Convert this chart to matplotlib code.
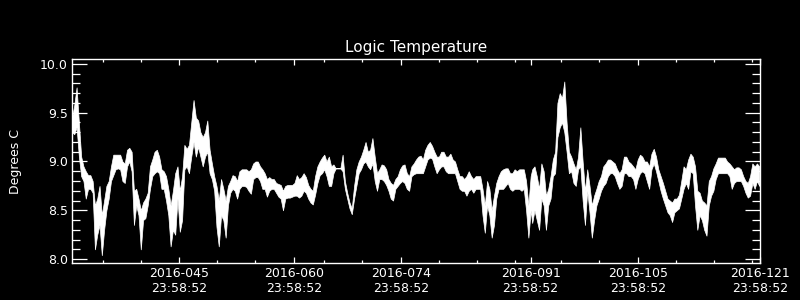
import matplotlib
matplotlib.use("Agg")
import matplotlib.pyplot as plt

# day of year 2016 (sampled from the plot), lower / upper envelope of the trace
day = [
    31.0, 31.3, 31.6, 31.9, 32.2, 32.5, 32.8, 33.1, 33.4, 33.7, 34.0, 34.3, 34.6, 34.9, 35.2, 35.5, 35.8,
    36.1, 36.4, 36.7, 37.0, 37.3, 37.6, 37.9, 38.2, 38.5, 38.8, 39.1, 39.4, 39.7, 40.0, 40.3, 40.6, 40.9,
    41.2, 41.5, 41.8, 42.1, 42.4, 42.7, 43.0, 43.3, 43.6, 43.9, 44.2, 44.5, 44.8, 45.1, 45.4, 45.7, 46.0,
    46.3, 46.6, 46.9, 47.2, 47.5, 47.8, 48.1, 48.4, 48.7, 49.0, 49.3, 49.6, 49.9, 50.2, 50.5, 50.8, 51.1,
    51.4, 51.7, 52.0, 52.3, 52.6, 52.9, 53.2, 53.5, 53.8, 54.1, 54.4, 54.7, 55.0, 55.3, 55.6, 55.9, 56.2,
    56.5, 56.8, 57.1, 57.4, 57.7, 58.0, 58.3, 58.6, 58.9, 59.2, 59.5, 59.8, 60.1, 60.4, 60.7,
    61.0, 61.3, 61.6, 61.9, 62.2, 62.5, 62.8, 63.1, 63.4, 63.7, 64.0, 64.3, 64.6, 64.9, 65.2, 65.5, 65.8,
    66.1, 66.4, 66.7, 67.0, 67.3, 67.6, 67.9, 68.2, 68.5, 68.8, 69.1, 69.4, 69.7, 70.0, 70.3, 70.6, 70.9,
    71.2, 71.5, 71.8, 72.1, 72.4, 72.7, 73.0, 73.3, 73.6, 73.9, 74.2, 74.5, 74.8, 75.1, 75.4, 75.7,
    76.0, 76.3, 76.6, 76.9, 77.2, 77.5, 77.8, 78.1, 78.4, 78.7, 79.0, 79.3, 79.6, 79.9, 80.2, 80.5, 80.8,
    81.1, 81.4, 81.7, 82.0, 82.3, 82.6, 82.9, 83.2, 83.5, 83.8, 84.1, 84.4, 84.7, 85.0, 85.3, 85.6, 85.9,
    86.2, 86.5, 86.8, 87.1, 87.4, 87.7, 88.0, 88.3, 88.6, 88.9, 89.2, 89.5, 89.8, 90.1, 90.4, 90.7, 91.0,
    91.2, 91.5, 91.8, 92.1, 92.4, 92.7, 93.0, 93.3, 93.6, 93.9, 94.2, 94.5, 94.8, 95.1, 95.4, 95.7, 96.0,
    96.3, 96.6, 96.9, 97.2, 97.5, 97.8, 98.1, 98.4, 98.7, 99.0, 99.3, 99.6, 99.9, 100.2, 100.5, 100.8,
    101.1, 101.4, 101.7, 102.0, 102.3, 102.6, 102.9, 103.2, 103.5, 103.8, 104.1, 104.4, 104.7, 105.0,
    105.3, 105.6, 105.9,
    106.2, 106.5, 106.8, 107.1, 107.4, 107.7, 108.0, 108.3, 108.6, 108.9, 109.2, 109.5, 109.8, 110.1,
    110.4, 110.7, 111.0, 111.3, 111.6, 111.9, 112.2, 112.5, 112.8, 113.1, 113.4, 113.7, 114.0, 114.3,
    114.6, 114.9, 115.2, 115.5, 115.8, 116.1, 116.4, 116.7, 117.0, 117.3, 117.6, 117.9, 118.2, 118.5,
    118.8, 119.1, 119.4, 119.7, 120.0, 120.3, 120.6, 120.9,
]

t_lo = [
    9.30, 9.28, 9.35, 9.05, 8.85, 8.80, 8.62, 8.72, 8.72, 8.68, 8.10, 8.25, 8.35, 8.04, 8.30, 8.50, 8.62,
    8.80, 8.86, 8.92, 8.93, 8.92, 8.80, 8.78, 8.95, 9.00, 8.90, 8.35, 8.55, 8.45, 8.10, 8.40, 8.42, 8.55,
    8.72, 8.85, 8.88, 8.90, 8.88, 8.72, 8.72, 8.60, 8.45, 8.13, 8.30, 8.25, 8.62, 8.28, 8.40, 8.92, 8.95,
    8.88, 9.05, 9.20, 9.05, 9.15, 9.05, 8.95, 9.05, 9.10, 8.88, 8.82, 8.70, 8.33, 8.13, 8.45, 8.40, 8.22,
    8.55, 8.68, 8.72, 8.70, 8.62, 8.72, 8.75, 8.75, 8.74, 8.70, 8.67, 8.82, 8.84, 8.84, 8.80, 8.72, 8.72,
    8.64, 8.70, 8.72, 8.72, 8.68, 8.64, 8.62, 8.50, 8.62, 8.63, 8.63, 8.64, 8.65, 8.65, 8.63,
    8.65, 8.70, 8.68, 8.62, 8.58, 8.56, 8.66, 8.78, 8.86, 8.88, 8.92, 8.85, 8.75, 8.75, 8.88, 8.93, 8.93,
    8.93, 8.90, 8.72, 8.62, 8.52, 8.46, 8.62, 8.75, 8.88, 8.92, 8.98, 9.00, 8.95, 8.92, 8.98, 8.80, 8.70,
    8.82, 8.82, 8.80, 8.76, 8.70, 8.62, 8.60, 8.72, 8.75, 8.78, 8.80, 8.78, 8.72, 8.70, 8.85, 8.87,
    8.88, 8.88, 8.88, 8.88, 8.95, 9.02, 9.04, 9.03, 8.95, 8.88, 8.92, 8.95, 8.95, 8.90, 8.88, 8.88, 8.88,
    8.88, 8.80, 8.72, 8.70, 8.70, 8.65, 8.70, 8.72, 8.68, 8.72, 8.72, 8.72, 8.45, 8.27, 8.55, 8.45, 8.22,
    8.35, 8.62, 8.72, 8.72, 8.72, 8.75, 8.78, 8.72, 8.70, 8.72, 8.72, 8.72, 8.70, 8.72, 8.50, 8.22, 8.50,
    8.37, 8.50, 8.40, 8.30, 8.62, 8.55, 8.30, 8.55, 8.62, 8.85, 8.88, 9.25, 9.35, 9.40, 9.30, 9.10, 8.88,
    8.90, 8.78, 8.75, 8.92, 8.95, 8.60, 8.35, 8.70, 8.48, 8.22, 8.40, 8.55, 8.62, 8.70, 8.75, 8.78,
    8.85, 8.88, 8.88, 8.85, 8.78, 8.72, 8.75, 8.88, 8.88, 8.85, 8.85, 8.82, 8.72, 8.82,
    8.88, 8.90, 8.88,
    8.80, 8.72, 8.92, 8.98, 8.90, 8.80, 8.70, 8.62, 8.55, 8.48, 8.45, 8.38, 8.48, 8.50,
    8.52, 8.62, 8.72, 8.78, 8.72, 8.90, 8.88, 8.55, 8.30, 8.45, 8.40, 8.30, 8.24, 8.55,
    8.65, 8.70, 8.82, 8.88, 8.88, 8.88, 8.88, 8.88, 8.85, 8.72, 8.78, 8.80, 8.80, 8.80,
    8.75, 8.68, 8.63, 8.65, 8.78, 8.72, 8.80, 8.75,
]

t_hi = [
    9.45, 9.58, 9.76, 9.40, 9.05, 8.95, 8.90, 8.86, 8.86, 8.80, 8.55, 8.62, 8.75, 8.45, 8.60, 8.75, 8.80,
    8.95, 9.07, 9.07, 9.07, 9.07, 9.00, 8.98, 9.12, 9.14, 9.10, 8.70, 8.72, 8.62, 8.50, 8.58, 8.62, 8.68,
    8.95, 9.02, 9.10, 9.12, 9.05, 8.92, 8.90, 8.85, 8.72, 8.55, 8.70, 8.88, 8.95, 8.70, 8.85, 9.17, 9.13,
    9.17, 9.40, 9.63, 9.45, 9.42, 9.30, 9.25, 9.30, 9.42, 9.12, 8.98, 8.85, 8.75, 8.60, 8.82, 8.72, 8.60,
    8.75, 8.80, 8.86, 8.85, 8.80, 8.90, 8.92, 8.92, 8.92, 8.90, 8.92, 8.98, 9.00, 9.00, 8.95, 8.92, 8.88,
    8.82, 8.84, 8.82, 8.82, 8.78, 8.77, 8.76, 8.70, 8.75, 8.76, 8.76, 8.76, 8.78, 8.86, 8.82,
    8.84, 8.88, 8.84, 8.76, 8.72, 8.70, 8.85, 8.95, 9.00, 9.04, 9.07, 9.00, 9.05, 8.95, 8.97, 8.93, 8.93,
    8.93, 9.07, 8.80, 8.68, 8.58, 8.52, 8.75, 8.92, 9.00, 9.05, 9.12, 9.20, 9.10, 9.12, 9.24, 9.05, 8.88,
    8.92, 8.97, 8.96, 8.92, 8.82, 8.78, 8.76, 8.82, 8.85, 8.92, 8.96, 8.97, 8.88, 8.85, 8.95, 8.98,
    9.02, 9.05, 9.06, 9.02, 9.12, 9.17, 9.20, 9.16, 9.10, 9.05, 9.05, 9.10, 9.10, 9.05, 9.05, 9.08, 9.02,
    9.00, 8.92, 8.85, 8.85, 8.82, 8.85, 8.90, 8.85, 8.82, 8.85, 8.85, 8.85, 8.72, 8.55, 8.80, 8.72, 8.50,
    8.65, 8.78, 8.85, 8.90, 8.92, 8.93, 8.93, 8.88, 8.88, 8.92, 8.90, 8.92, 8.92, 8.92, 8.80, 8.55, 8.85,
    8.92, 8.95, 8.85, 8.72, 8.98, 8.90, 8.65, 8.72, 8.85, 9.02, 9.10, 9.60, 9.70, 9.65, 9.82, 9.40, 9.10,
    9.05, 8.98, 8.92, 9.05, 9.35, 9.00, 8.70, 8.92, 8.75, 8.55, 8.65, 8.72, 8.80, 8.85, 8.95, 8.98,
    9.02, 9.02, 9.00, 8.98, 8.92, 8.88, 8.92, 9.05, 9.05, 9.00, 8.98, 8.95, 8.92, 9.02,
    9.07, 9.05, 9.00,
    9.00, 8.95, 9.08, 9.13, 9.05, 8.92, 8.85, 8.78, 8.70, 8.62, 8.60, 8.58, 8.62, 8.62,
    8.66, 8.80, 8.95, 8.92, 9.02, 9.08, 9.05, 8.95, 8.70, 8.68, 8.60, 8.58, 8.55, 8.80,
    8.85, 8.93, 8.98, 9.04, 9.04, 9.04, 9.04, 9.00, 8.98, 8.95, 8.92, 8.94, 8.94, 8.92,
    8.85, 8.80, 8.78, 8.85, 8.98, 8.95, 8.98, 8.95,
]

tick_days = [45, 60, 74, 91, 105, 121]
tick_labels = ["2016-045\n23:58:52", "2016-060\n23:58:52", "2016-074\n23:58:52",
               "2016-091\n23:58:52", "2016-105\n23:58:52", "2016-121\n23:58:52"]
minor_days = [35, 40, 50, 55, 64, 69, 79, 84, 89, 95, 100, 110, 115, 120]

fig = plt.figure(figsize=(8, 3), dpi=100, facecolor="black")
ax = fig.add_axes([0.09, 0.1233, 0.86, 0.68])
ax.set_facecolor("black")

ax.fill_between(day, t_lo, t_hi, color="white", linewidth=0.5, edgecolor="white",
                antialiased=False)

ax.set_xlim(31.0, 121.0)
ax.set_ylim(7.96, 10.05)

ax.set_xticks(tick_days)
ax.set_xticklabels(tick_labels)
ax.set_xticks(minor_days, minor=True)
ax.set_yticks([8.0, 8.5, 9.0, 9.5, 10.0])
ax.set_yticklabels(["8.0", "8.5", "9.0", "9.5", "10.0"])
ax.set_yticks([8.0 + 0.1 * i for i in range(21)], minor=True)

for s in ax.spines.values():
    s.set_color("white")
    s.set_linewidth(1.0)

ax.tick_params(axis="both", which="both", direction="in", colors="white",
               top=True, right=True, labelsize=9, width=0.9)
ax.tick_params(axis="y", which="major", length=10.5, pad=3)
ax.tick_params(axis="y", which="minor", length=5.5)
ax.tick_params(axis="x", which="major", length=4.5, pad=3)
ax.tick_params(axis="x", which="minor", length=2.2)

ax.set_title("Logic Temperature", color="white", fontsize=11, pad=5)
ax.set_ylabel("Degrees C", color="white", fontsize=9)
ax.yaxis.set_label_coords(-0.072, 0.5)

fig.savefig("out.png", dpi=100, facecolor="black")
